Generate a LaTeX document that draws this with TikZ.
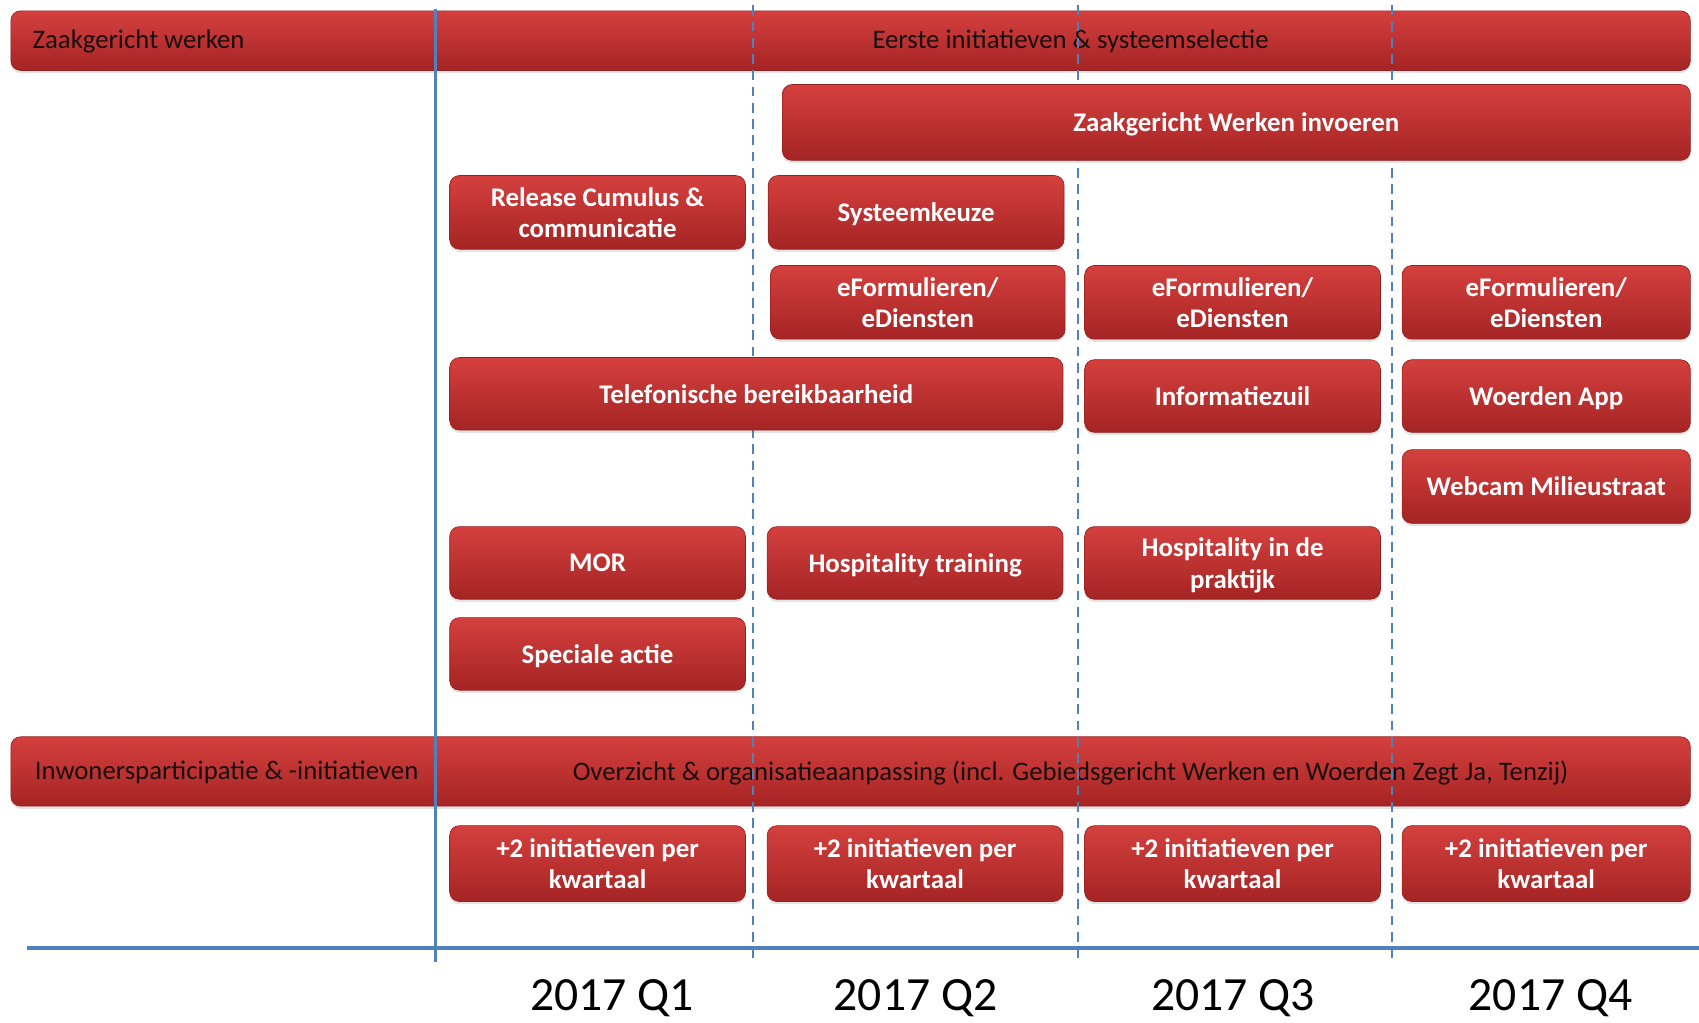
\documentclass[tikz,border=0pt]{standalone}
\usepackage{fontspec}
\setmainfont{Carlito}
\usetikzlibrary{shadows}
\definecolor{redtop}{RGB}{212,64,62}
\definecolor{redbot}{RGB}{165,36,36}
\definecolor{axisblue}{RGB}{79,129,189}
\definecolor{bartext}{RGB}{25,15,15}
\tikzset{
  barbox/.style={rounded corners=9pt, top color=redtop, bottom color=redbot,
    draw=redbot!90!black, line width=0.6pt,
    drop shadow={opacity=0.22, shadow xshift=0pt, shadow yshift=-2.5pt}},
  taskbox/.style={rounded corners=9pt, top color=redtop, bottom color=redbot,
    draw=redbot!90!black, line width=0.6pt,
    drop shadow={opacity=0.22, shadow xshift=0pt, shadow yshift=-2.5pt},
    text=white, align=center, inner sep=0pt, text depth=0pt,
    font=\fontsize{24.8}{29}\selectfont\bfseries},
  bartitle/.style={text=bartext, inner sep=0pt, font=\fontsize{24.7}{29}\selectfont},
  quarterline/.style={axisblue, line width=1.8pt, dash pattern=on 9pt off 6pt},
  yearlabel/.style={inner sep=0pt, font=\fontsize{44}{50}\selectfont},
}
\newcommand{\task}[7]{% name, x0, y0, x1, y1, text
  \node[taskbox, minimum width={#4-#2}, minimum height={#5-#3}]
    (#1) at ({(#2+#4)/2},{(#3+#5)/2}) {#6};}
\begin{document}
\begin{tikzpicture}[x=1pt, y=-1pt]
\useasboundingbox (0,0) rectangle (1568,944);
\fill[white] (0,0) rectangle (1568,944);

% programme bars spanning the full width
\node[barbox, minimum width=1550, minimum height=55] (zw) at (785,37.5) {};
\node[bartitle, anchor=west] (zwlabel) at (30,38) {Zaakgericht werken};
\node[bartitle] (zwtitle) at (988,38) {Eerste initiatieven \& systeemselectie};

\node[barbox, minimum width=1550, minimum height=64] (ip) at (785,712) {};
\node[bartitle, anchor=west] (iplabel) at (32,713) {Inwonersparticipatie \& -initiatieven};
\node[bartitle] (iptitle) at (988,713) {Overzicht \& organisatieaanpassing (incl. Gebiedsgericht Werken en Woerden Zegt Ja, Tenzij)};

% time axis and quarter separators
\coordinate (startTop) at (402,8);
\coordinate (startBot) at (402,888);
\coordinate (axL) at (25,875);
\coordinate (axR) at (1568,875);
\coordinate (q2Top) at (695,5);  \coordinate (q2Bot) at (695,888);
\coordinate (q3Top) at (995,5);  \coordinate (q3Bot) at (995,888);
\coordinate (q4Top) at (1285,5); \coordinate (q4Bot) at (1285,888);
\draw[quarterline] (q2Top) -- (q2Bot);
\draw[quarterline] (q3Top) -- (q3Bot);
\draw[quarterline] (q4Top) -- (q4Bot);
\draw[axisblue, line width=3.2pt] (startTop) -- (startBot);
\draw[axisblue, line width=4pt] (axL) -- (axR);

% activities
\task{zwi}{722}{78}{1560}{148}{Zaakgericht Werken invoeren}{}
\task{rel}{415}{162}{688}{230}{Release Cumulus \&\\communicatie}{}
\task{sys}{709}{162}{982}{230}{Systeemkeuze}{}
\task{efa}{711}{245}{983}{313}{eFormulieren/\\eDiensten}{}
\task{efb}{1001}{245}{1274}{313}{eFormulieren/\\eDiensten}{}
\task{efc}{1294}{245}{1560}{313}{eFormulieren/\\eDiensten}{}
\task{tel}{415}{330}{981}{397}{Telefonische bereikbaarheid}{}
\task{inf}{1001}{332}{1274}{399}{Informatiezuil}{}
\task{app}{1294}{332}{1560}{399}{Woerden App}{}
\task{web}{1294}{415}{1560}{483}{Webcam Milieustraat}{}
\task{mor}{415}{486}{688}{553}{MOR}{}
\task{hot}{708}{486}{981}{553}{Hospitality training}{}
\task{hop}{1001}{486}{1274}{553}{Hospitality in de\\praktijk}{}
\task{spe}{415}{570}{688}{637}{Speciale actie}{}
\task{ina}{415}{762}{688}{832}{+2 initiatieven per\\kwartaal}{}
\task{inb}{708}{762}{981}{832}{+2 initiatieven per\\kwartaal}{}
\task{inc}{1001}{762}{1274}{832}{+2 initiatieven per\\kwartaal}{}
\task{ind}{1294}{762}{1560}{832}{+2 initiatieven per\\kwartaal}{}

% quarter labels
\node[yearlabel] (y1) at (565,921) {2017 Q1};
\node[yearlabel] (y2) at (845,921) {2017 Q2};
\node[yearlabel] (y3) at (1138,921) {2017 Q3};
\node[yearlabel] (y4) at (1431,921) {2017 Q4};
\end{tikzpicture}
\end{document}
